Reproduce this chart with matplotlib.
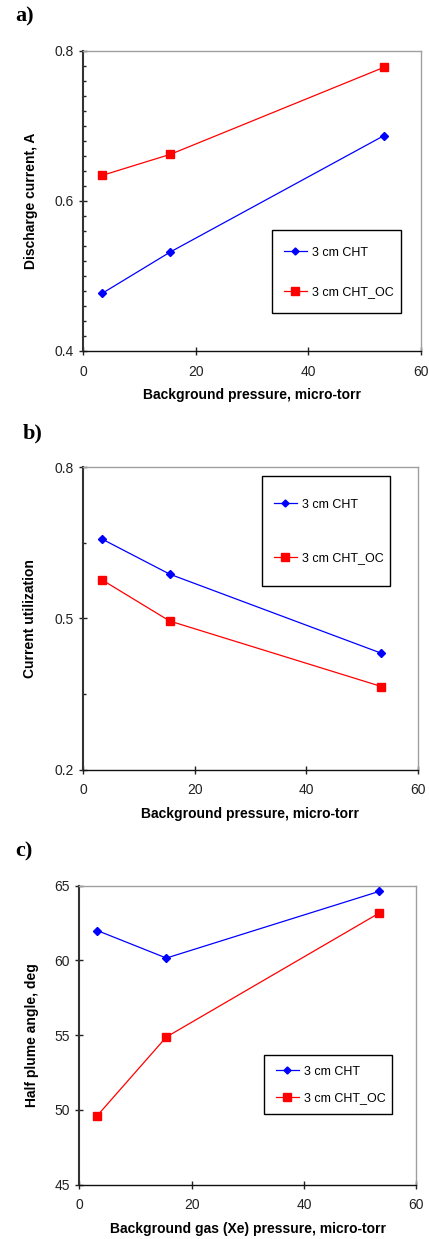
import matplotlib
matplotlib.use("Agg")
import matplotlib.pyplot as plt
from matplotlib.patches import Rectangle
from matplotlib.ticker import FixedLocator

# ---------------- data ----------------
series_names = ["3 cm CHT", "3 cm CHT_OC"]

pressure_a = [3.4, 15.5, 53.5]
current_cht = [0.477, 0.532, 0.687]
current_cht_oc = [0.634, 0.662, 0.778]

pressure_b = [3.3, 15.5, 53.5]
util_cht = [0.658, 0.588, 0.431]
util_cht_oc = [0.577, 0.495, 0.365]

pressure_c = [3.2, 15.5, 53.4]
angle_cht = [62.0, 60.16, 64.62]
angle_cht_oc = [49.62, 54.88, 63.17]

xticks = [0, 20, 40, 60]
yticks_a = [0.4, 0.6, 0.8]
yminor_a = [0.42, 0.44, 0.46, 0.48, 0.50, 0.52, 0.54, 0.56, 0.58,
            0.62, 0.64, 0.66, 0.68, 0.70, 0.72, 0.74, 0.76, 0.78]
yticks_b = [0.2, 0.5, 0.8]
yminor_b = [0.35, 0.65]
yticks_c = [45, 50, 55, 60, 65]

panel_labels = ["a)", "b)", "c)"]
xlabels = ["Background pressure, micro-torr",
           "Background pressure, micro-torr",
           "Background gas (Xe) pressure, micro-torr"]
ylabels = ["Discharge current, A", "Current utilization", "Half plume angle, deg"]

# ---------------- style ----------------
plt.rcParams['font.family'] = ['Liberation Sans', 'DejaVu Sans']
BLUE = "#0000FF"
RED = "#FF0000"
W, H = 429, 1239
fig = plt.figure(figsize=(W / 100, H / 100), dpi=100)


def px_axes(l, r, t, b):
    return [l / W, (H - b) / H, (r - l) / W, (b - t) / H]


def style_axes(ax, yticks, yminor, ylim, xlabel, ylabel, xl_y, yl_x):
    ax.set_xlim(0, 60)
    ax.set_ylim(*ylim)
    ax.xaxis.set_major_locator(FixedLocator(xticks))
    ax.yaxis.set_major_locator(FixedLocator(yticks))
    if yminor:
        ax.yaxis.set_minor_locator(FixedLocator(yminor))
    ax.tick_params(axis='y', which='major', direction='inout', length=5.8,
                   width=1.0, labelsize=10, pad=4.0, colors='#222222')
    ax.tick_params(axis='y', which='minor', direction='in', length=2.4,
                   width=1.0, colors='#222222')
    ax.tick_params(axis='x', which='major', direction='inout', length=5.8,
                   width=1.0, labelsize=10, pad=7.0, colors='#222222')
    for s in ('top', 'right'):
        ax.spines[s].set_color('#a0a0a0')
        ax.spines[s].set_linewidth(1.0)
    ax.spines['left'].set_color('#333333')
    ax.spines['left'].set_linewidth(1.5)
    ax.spines['bottom'].set_color('#111111')
    ax.spines['bottom'].set_linewidth(1.0)
    ax.set_xlabel(xlabel, fontsize=10, fontweight='bold', va='center', ha='center')
    ax.set_ylabel(ylabel, fontsize=10, fontweight='bold', va='center', ha='center')
    ax.xaxis.set_label_coords(0.5, xl_y)
    ax.yaxis.set_label_coords(yl_x, 0.5)


def plot_series(ax, x, y1, y2):
    l1, = ax.plot(x, y1, color=BLUE, lw=0.9, marker='D', ms=4.2,
                  mfc=BLUE, mec=BLUE, label=series_names[0], clip_on=False, zorder=3)
    l2, = ax.plot(x, y2, color=RED, lw=0.9, marker='s', ms=6.2,
                  mfc=RED, mec=RED, label=series_names[1], clip_on=False, zorder=3)
    return l1, l2


def add_legend(ax, box, hx, ymid, spacing):
    rect = Rectangle((box[0], box[1]), box[2], box[3], transform=ax.transAxes,
                     facecolor='white', edgecolor='black', lw=1.0, zorder=4,
                     clip_on=False)
    ax.add_patch(rect)
    leg = ax.legend(loc='center left', bbox_to_anchor=(hx, ymid), frameon=False,
                    fontsize=9, handlelength=1.8, handletextpad=0.4,
                    labelspacing=spacing, borderpad=0, borderaxespad=0,
                    numpoints=1, markerscale=0.85)
    leg.set_zorder(5)


# ---- panel a ----
axa = fig.add_axes(px_axes(83.3, 420.7, 50.7, 351.0))
plot_series(axa, pressure_a, current_cht, current_cht_oc)
style_axes(axa, yticks_a, yminor_a, (0.4, 0.8), xlabels[0], ylabels[0], -0.1465, -0.156)
add_legend(axa, (0.559, 0.1265, 0.3826, 0.2765), 0.595, 0.2614, 2.2)

# ---- panel b ----
axb = fig.add_axes(px_axes(83.3, 417.7, 467.3, 769.7))
plot_series(axb, pressure_b, util_cht, util_cht_oc)
style_axes(axb, yticks_b, yminor_b, (0.2, 0.8), xlabels[1], ylabels[1], -0.1465, -0.1594)
add_legend(axb, (0.5344, 0.6075, 0.3828, 0.3637), 0.5703, 0.7884, 3.3)

# ---- panel c ----
axc = fig.add_axes(px_axes(79.3, 416.3, 885.7, 1184.7))
plot_series(axc, pressure_c, angle_cht, angle_cht_oc)
style_axes(axc, yticks_c, None, (45, 65), xlabels[2], ylabels[2], -0.149, -0.141)
add_legend(axc, (0.548, 0.2375, 0.380, 0.1963), 0.5837, 0.3334, 1.2)

# ---- panel letters ----
label_pos = [(15, 21.7), (22.7, 438.0), (15, 856.7)]
for lab, (lx, ly) in zip(panel_labels, label_pos):
    fig.text(lx / W, 1 - ly / H, lab, fontsize=16, fontweight='bold',
             family=['Liberation Serif', 'DejaVu Serif'], va='baseline', ha='left')

fig.savefig("out.png", dpi=100)
